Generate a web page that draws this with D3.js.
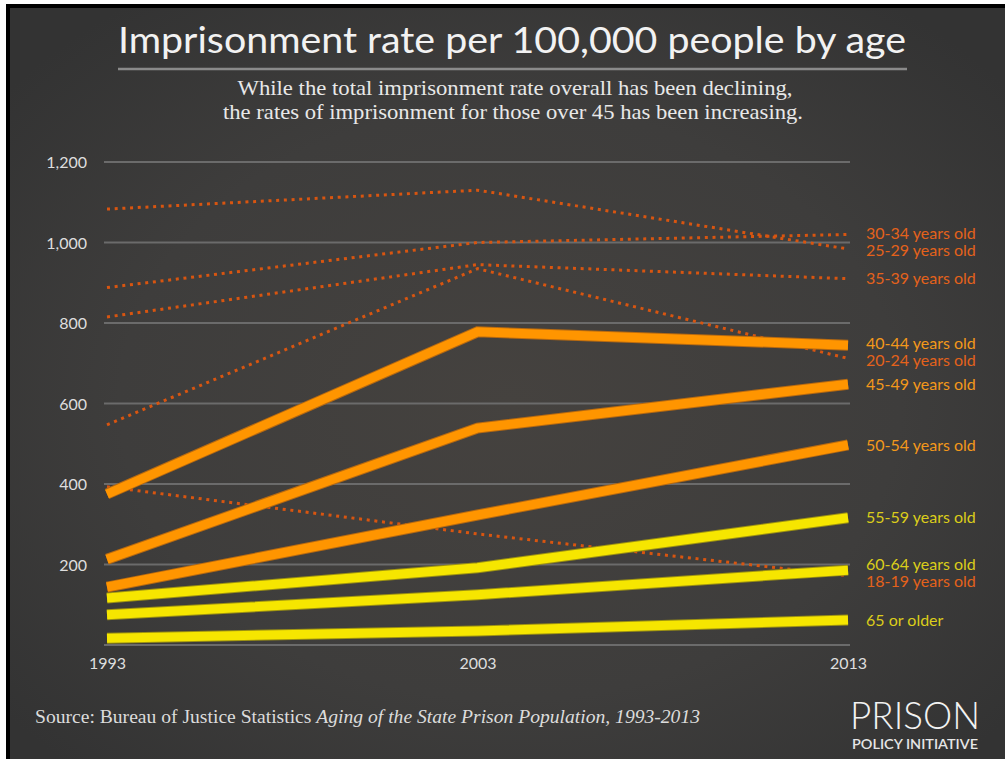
<!DOCTYPE html>
<html><head><meta charset="utf-8">
<script src="https://cdn.jsdelivr.net/npm/d3@7"></script>
<style>html,body{margin:0;padding:0;background:#fff;}svg{display:block;}</style>
</head><body>
<svg id="c" width="1005" height="759"></svg>
<script>
// ---------- data ----------
const years = [1993, 2003, 2013];
const yTicks = [200, 400, 600, 800, 1000, 1200];
const gridTicks = [0, 200, 400, 600, 800, 1000, 1200];

const dottedNames = ["30-34 years old", "25-29 years old", "35-39 years old", "20-24 years old", "18-19 years old"];
const r30_34 = [888, 1000, 1020];
const r25_29 = [1083, 1130, 984];
const r35_39 = [815, 945, 910];
const r20_24 = [547, 935, 712];
const r18_19 = [393, 276, 172];

const solidNames = ["40-44 years old", "45-49 years old", "50-54 years old", "55-59 years old", "60-64 years old", "65 or older"];
const r40_44 = [375, 778, 745];
const r45_49 = [213, 539, 648];
const r50_54 = [144, 323, 497];
const r55_59 = [117, 192, 316];
const r60_64 = [75, 125, 186];
const r65 = [17, 35, 62];

const titleText = "Imprisonment rate per 100,000 people by age";
const subtitle1 = "While the total imprisonment rate overall has been declining,";
const subtitle2 = "the rates of imprisonment for those over 45 has been increasing.";

const dotted = [r30_34, r25_29, r35_39, r20_24, r18_19].map((v, i) => ({name: dottedNames[i], values: v, kind: "dot"}));
const solidVals = [r40_44, r45_49, r50_54, r55_59, r60_64, r65];
const solid = solidVals.map((v, i) => ({name: solidNames[i], values: v, kind: i < 3 ? "orange" : "yellow"}));

// ---------- drawing ----------
const svg = d3.select("#c");
const defs = svg.append("defs");
const rg = defs.append("radialGradient").attr("id", "bg").attr("cx", "50%").attr("cy", "52%").attr("r", "65%");
rg.append("stop").attr("offset", "0%").attr("stop-color", "#45423f");
rg.append("stop").attr("offset", "60%").attr("stop-color", "#3e3d3c");
rg.append("stop").attr("offset", "100%").attr("stop-color", "#333333");

svg.append("rect").attr("x", 0).attr("y", 0).attr("width", 1005).attr("height", 759).attr("fill", "#fff");
svg.append("rect").attr("x", 6).attr("y", 4).attr("width", 1010).attr("height", 770).attr("fill", "#000");
svg.append("rect").attr("x", 10).attr("y", 8).attr("width", 1000).attr("height", 760).attr("fill", "url(#bg)");

// title
svg.append("text").attr("x", 512).attr("y", 53).attr("text-anchor", "middle")
  .attr("font-family", "Lato, 'Noto Sans', sans-serif").attr("font-weight", 400).attr("font-size", 36).attr("fill", "#f2f2f2")
  .attr("textLength", 788).attr("lengthAdjust", "spacingAndGlyphs").text(titleText);
svg.append("line").attr("x1", 118).attr("x2", 907).attr("y1", 69).attr("y2", 69)
  .attr("stroke", "#8a8a8a").attr("stroke-width", 2.5);
svg.append("text").attr("x", 515).attr("y", 95).attr("text-anchor", "middle")
  .attr("font-family", "'Liberation Serif', serif").attr("font-size", 22).attr("fill", "#e8e8e8")
  .attr("textLength", 555).attr("lengthAdjust", "spacingAndGlyphs").text(subtitle1);
svg.append("text").attr("x", 513).attr("y", 119).attr("text-anchor", "middle")
  .attr("font-family", "'Liberation Serif', serif").attr("font-size", 22).attr("fill", "#e8e8e8")
  .attr("textLength", 580).attr("lengthAdjust", "spacingAndGlyphs").text(subtitle2);

const x = d3.scalePoint().domain(years).range([107, 848]);
const y = d3.scaleLinear().domain([0, 1200]).range([645, 162]);

// grid
svg.append("g").selectAll("line").data(gridTicks).join("line")
  .attr("x1", 104).attr("x2", 850)
  .attr("y1", d => y(d)).attr("y2", d => y(d))
  .attr("stroke", "#6b6b6b").attr("stroke-width", 2);

// y axis labels
const yAxis = d3.axisLeft(y).tickValues(yTicks).tickFormat(d3.format(",")).tickSize(0).tickPadding(0);
const ya = svg.append("g").attr("transform", "translate(87,0)").call(yAxis);
ya.select(".domain").remove();
ya.selectAll("text").attr("font-family", "Lato, 'Noto Sans', sans-serif").attr("font-size", 16)
  .attr("fill", "#dedede").attr("dy", "0.35em");

// x axis labels
const xAxis = d3.axisBottom(x).tickSize(0).tickPadding(0);
const xa = svg.append("g").attr("transform", "translate(0,658)").call(xAxis);
xa.select(".domain").remove();
xa.selectAll("text").attr("font-family", "Lato, 'Noto Sans', sans-serif").attr("font-size", 16)
  .attr("fill", "#dedede").attr("dy", "0.71em");

const line = d3.line().x((d, i) => x(years[i])).y(d => y(d));

// dotted lines
svg.append("g").selectAll("path").data(dotted).join("path")
  .attr("d", d => line(d.values)).attr("fill", "none")
  .attr("stroke", "#d85510").attr("stroke-width", 3).attr("stroke-dasharray", "3 4.7");

// solid lines: darker edge then fill
const edgeColor = {orange: "#b86a10", yellow: "#9d9212"};
const fillColor = {orange: "#ff9500", yellow: "#f6e600"};
const sg = svg.append("g");
solid.slice().reverse().forEach(s => {
  sg.append("path").attr("d", line(s.values)).attr("fill", "none")
    .attr("stroke", edgeColor[s.kind]).attr("stroke-width", 11).attr("stroke-linejoin", "miter");
  sg.append("path").attr("d", line(s.values)).attr("fill", "none")
    .attr("stroke", fillColor[s.kind]).attr("stroke-width", 9).attr("stroke-linejoin", "miter");
});

// labels with simple collision avoidance
const labelColor = {dot: "#e4621b", orange: "#f3981a", yellow: "#dbcd1a"};
const labels = dotted.concat(solid).map(s => ({name: s.name, kind: s.kind, y: y(s.values[2])}));
labels.sort((a, b) => a.y - b.y);
const gap = 17;
for (let it = 0; it < 50; it++) {
  for (let i = 1; i < labels.length; i++) {
    const d = labels[i].y - labels[i - 1].y;
    if (d < gap) {
      const push = (gap - d) / 2;
      labels[i].y += push; labels[i - 1].y -= push;
    }
  }
}
svg.append("g").selectAll("text").data(labels).join("text")
  .attr("x", 866).attr("y", d => d.y).attr("dy", "0.35em")
  .attr("font-family", "Lato, 'Noto Sans', sans-serif").attr("font-size", 16)
  .attr("fill", d => labelColor[d.kind]).text(d => d.name);

// source
const src = svg.append("text").attr("x", 35).attr("y", 723)
  .attr("font-family", "'Liberation Serif', serif").attr("font-size", 19).attr("fill", "#dcdcdc")
  .attr("textLength", 665).attr("lengthAdjust", "spacingAndGlyphs");
src.append("tspan").text("Source: Bureau of Justice Statistics ");
src.append("tspan").attr("font-style", "italic").text("Aging of the State Prison Population, 1993-2013");

// logo
svg.append("text").attr("x", 915).attr("y", 729).attr("text-anchor", "middle")
  .attr("font-family", "Lato, 'Noto Sans', sans-serif").attr("font-weight", 300).attr("font-size", 37).attr("fill", "#f2f2f2")
  .attr("textLength", 130).attr("lengthAdjust", "spacingAndGlyphs").text("PRISON");
svg.append("text").attr("x", 915).attr("y", 749).attr("text-anchor", "middle")
  .attr("font-family", "Lato, 'Noto Sans', sans-serif").attr("font-size", 13).attr("font-weight", 600).attr("fill", "#e6e6e6")
  .attr("textLength", 126).attr("lengthAdjust", "spacingAndGlyphs").text("POLICY INITIATIVE");
</script>
</body></html>
